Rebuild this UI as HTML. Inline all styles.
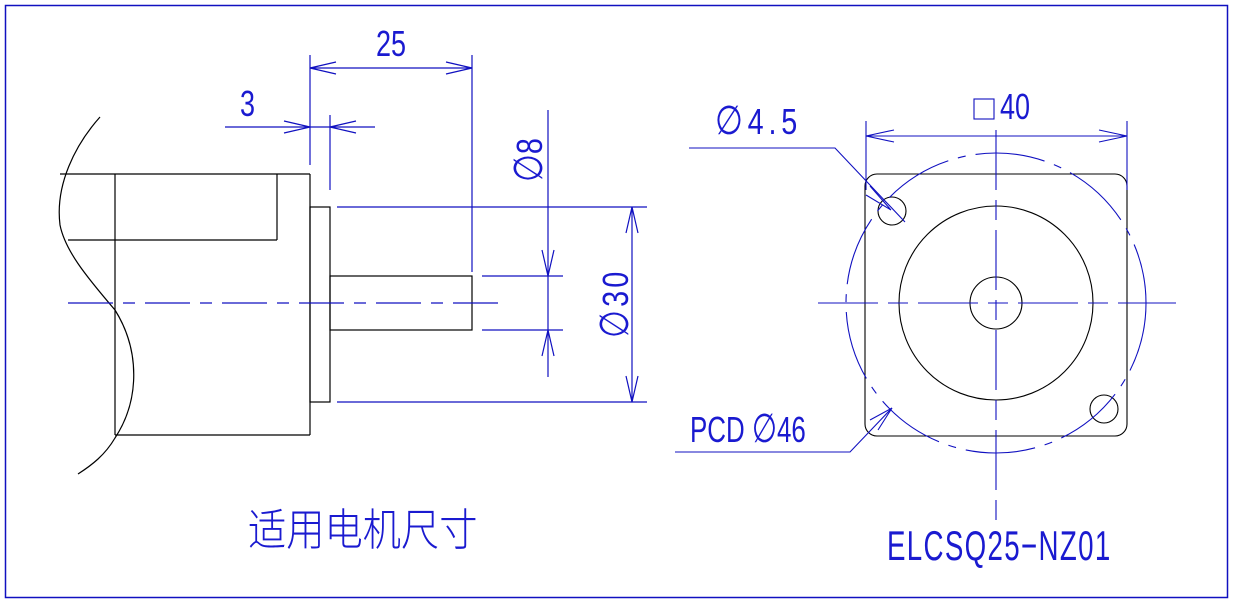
<!DOCTYPE html>
<html><head><meta charset="utf-8"><style>
html,body{margin:0;padding:0;background:#fff;}
svg{display:block;}
text{font-family:"Liberation Sans Narrow","Liberation Sans",sans-serif;fill:#1a1ad0;}
.d{font-family:"DejaVu Sans",sans-serif;}
</style></head><body>
<svg width="1233" height="604" viewBox="0 0 1233 604" xmlns="http://www.w3.org/2000/svg">
<rect x="5.5" y="5.5" width="1222" height="592" fill="none" stroke="#1010c0" stroke-width="1.5"/>
<g fill="none" stroke="#000" stroke-width="1.2">
<path d="M100,117 C75,145 55,185 60,225 C65,250 85,275 115,310 C140,350 140,400 115,438 C105,455 92,465 78,474"/>
<line x1="60" y1="174" x2="310" y2="174"/>
<line x1="115" y1="435" x2="310" y2="435"/>
<line x1="115" y1="174" x2="115" y2="435"/>
<line x1="68" y1="240" x2="277" y2="240"/>
<line x1="277" y1="174" x2="277" y2="240"/>
<line x1="310" y1="174" x2="310" y2="435"/>
<rect x="310" y="207" width="20" height="195"/>
<rect x="330" y="276" width="142" height="54"/>
</g>
<g fill="none" stroke="#1010c0" stroke-width="1.2">
<line x1="68" y1="303" x2="503" y2="303" stroke-dasharray="45,10,12,10"/>
<line x1="310" y1="55" x2="310" y2="165"/>
<line x1="472" y1="55" x2="472" y2="272"/>
<line x1="310" y1="68" x2="472" y2="68"/>
<path d="M336,62 L310,68 L336,74 M446,62 L472,68 L446,74"/>
<line x1="330" y1="115" x2="330" y2="190"/>
<line x1="225" y1="127" x2="375" y2="127"/>
<path d="M284,121 L310,127 L284,133 M356,121 L330,127 L356,133"/>
<line x1="548" y1="110" x2="548" y2="377"/>
<line x1="482" y1="276" x2="563" y2="276"/>
<line x1="482" y1="330" x2="563" y2="330"/>
<path d="M542,250 L548,276 L554,250 M542,356 L548,330 L554,356"/>
<line x1="337" y1="207" x2="647" y2="207"/>
<line x1="337" y1="402" x2="647" y2="402"/>
<line x1="632" y1="207" x2="632" y2="402"/>
<path d="M626,233 L632,207 L638,233 M626,376 L632,402 L638,376"/>
</g>
<text x="376" y="56" font-size="36" transform="translate(376,0) scale(0.75,1) translate(-376,0)">25</text>
<text x="240" y="116" font-size="36" transform="translate(240,0) scale(0.75,1) translate(-240,0)">3</text>
<text font-size="36" transform="translate(542,182) rotate(-90) scale(0.8,1)"><tspan class="d" font-size="40">∅</tspan>8</text>
<text font-size="36" transform="translate(628,338) rotate(-90) scale(0.8,1)" letter-spacing="4"><tspan class="d" font-size="40">∅</tspan>30</text>
<text x="248" y="545" font-size="44" transform="translate(248,0) scale(0.87,1) translate(-248,0)" style="font-family:'Noto Sans CJK SC',sans-serif;font-weight:300">适用电机尺寸</text>
<text x="887" y="560" font-size="42" transform="translate(887,0) scale(0.66,1) translate(-887,0)" letter-spacing="2">ELCSQ25−NZ01</text>
<g fill="none" stroke="#000" stroke-width="1.1">
<rect x="865" y="174" width="262" height="262" rx="12"/>
<circle cx="996" cy="303" r="97"/>
<circle cx="996" cy="303" r="26"/>
<circle cx="892" cy="211" r="14"/>
<circle cx="1104" cy="409" r="14"/>
</g>
<g fill="none" stroke="#1010c0" stroke-width="1.1">
<circle cx="996" cy="303" r="150" stroke-dasharray="70,10,8,10"/>
<line x1="818" y1="303" x2="1176" y2="303" stroke-dasharray="60,10,20,10"/>
<line x1="996" y1="130" x2="996" y2="520" stroke-dasharray="60,10,20,10"/>
<line x1="866" y1="121" x2="866" y2="190"/>
<line x1="1127" y1="121" x2="1127" y2="190"/>
<line x1="866" y1="136" x2="1127" y2="136"/>
<path d="M894,130 L866,136 L894,142 M1099,130 L1127,136 L1099,142"/>
<rect x="974" y="99" width="20" height="20"/>
<polyline points="689,148 835,148 905,222"/>
<path d="M870,186 L891,210 M866,195 L891,210"/>
<polyline points="675,452 850,452 892,408"/>
<path d="M870,420 L892,408 M878,430 L892,408"/>
</g>
<text x="1000" y="119" font-size="36" transform="translate(1000,0) scale(0.75,1) translate(-1000,0)">40</text>
<text x="715" y="134" font-size="36" letter-spacing="6" transform="translate(715,0) scale(0.8,1) translate(-715,0)"><tspan class="d" font-size="40">∅</tspan>4.5</text>
<text x="690" y="442" font-size="36" transform="translate(690,0) scale(0.72,1) translate(-690,0)">PCD <tspan class="d" font-size="40">∅</tspan>46</text>
</svg>
</body></html>
